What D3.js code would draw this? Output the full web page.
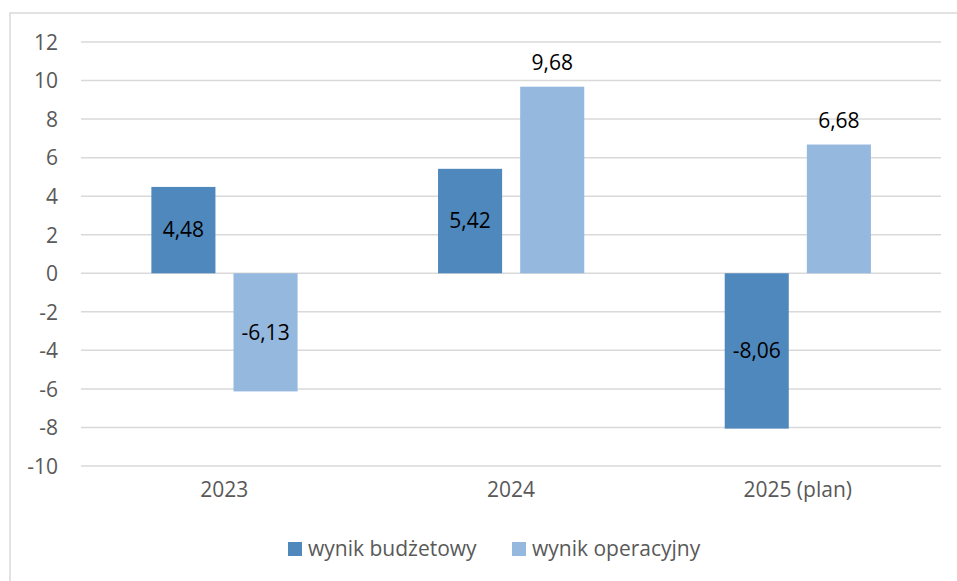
<!DOCTYPE html>
<html>
<head>
<meta charset="utf-8">
<script src="https://cdn.jsdelivr.net/npm/d3@7"></script>
<style>
  body { margin: 0; background: #fff; }
  text { font-family: "Open Sans", sans-serif; }
</style>
</head>
<body>
<script>
var width = 957, height = 581;

// data
var categories = ["2023", "2024", "2025 (plan)"];
var seriesNames = ["wynik budżetowy", "wynik operacyjny"];
var budzetowy = [4.48, 5.42, -8.06];
var operacyjny = [-6.13, 9.68, 6.68];
var yTicks = [-10, -8, -6, -4, -2, 0, 2, 4, 6, 8, 10, 12];
var colors = ["#4f88bd", "#95b8df"];
// where Excel put each label: "c" = centre of bar, "o" = outside end
var labelPos = [["c", "c", "c"], ["c", "o", "o"]];

var values = [budzetowy, operacyjny];

function plFmt(v) {
    return d3.format(".2f")(v).replace(".", ",").replace("\u2212", "-");
}

var svg = d3.select("body").append("svg")
    .attr("width", width)
    .attr("height", height);

// chart border
svg.append("rect")
    .attr("x", 10).attr("y", 13)
    .attr("width", 960).attr("height", 600)
    .attr("fill", "none")
    .attr("stroke", "#d9d9d9")
    .attr("stroke-width", 1.5);

var plotLeft = 81, plotRight = 941;

var y = d3.scaleLinear().domain([-10, 12]).range([466, 42]);

var x0 = d3.scaleBand()
    .domain(categories)
    .range([plotLeft, plotRight])
    .padding(0);

var bw = x0.bandwidth();
var x1 = d3.scaleBand()
    .domain(d3.range(seriesNames.length))
    .range([bw * 0.2455, bw * 0.7555])
    .paddingInner(0.22)
    .paddingOuter(0);

// gridlines
svg.append("g").selectAll("line")
  .data(yTicks)
  .join("line")
    .attr("x1", plotLeft).attr("x2", plotRight)
    .attr("y1", function(d) { return y(d); })
    .attr("y2", function(d) { return y(d); })
    .attr("stroke", "#d9d9d9")
    .attr("stroke-width", 1.5);

// y axis labels
var yAxis = d3.axisLeft(y).tickValues(yTicks).tickSize(0).tickPadding(0)
    .tickFormat(function(d) { return String(d); });
var gy = svg.append("g")
    .attr("transform", "translate(58,0)")
    .call(yAxis);
gy.select(".domain").remove();
gy.selectAll("text")
    .attr("fill", "#595959")
    .attr("dy", "0.35em")
    .style("font-size", "21px")
    .style("font-family", "'Open Sans', sans-serif");

// x axis labels
var xAxis = d3.axisBottom(x0).tickSize(0).tickPadding(0);
var gx = svg.append("g")
    .attr("transform", "translate(0,484)")
    .call(xAxis);
gx.select(".domain").remove();
gx.selectAll("text")
    .attr("fill", "#595959")
    .attr("dy", "0.62em")
    .style("font-size", "21px")
    .style("font-family", "'Open Sans', sans-serif");

// bars
seriesNames.forEach(function(name, s) {
    var rows = categories.map(function(c, i) {
        return { cat: c, v: values[s][i], pos: labelPos[s][i] };
    });
    var g = svg.append("g");
    g.selectAll("rect")
      .data(rows)
      .join("rect")
        .attr("x", function(d) { return x0(d.cat) + x1(s); })
        .attr("width", x1.bandwidth())
        .attr("y", function(d) { return y(Math.max(0, d.v)); })
        .attr("height", function(d) { return Math.abs(y(d.v) - y(0)); })
        .attr("fill", colors[s]);

    g.selectAll("text")
      .data(rows)
      .join("text")
        .attr("x", function(d) { return x0(d.cat) + x1(s) + x1.bandwidth() / 2; })
        .attr("y", function(d) {
            if (d.pos === "o") return y(d.v) - 24;
            return (y(d.v) + y(0)) / 2;
        })
        .attr("text-anchor", "middle")
        .attr("dy", "0.35em")
        .attr("fill", "#000")
        .style("font-size", "21px")
        .text(function(d) { return plFmt(d.v); });
});

// legend
var legendX = [288, 512];
var legend = svg.append("g");
seriesNames.forEach(function(name, s) {
    legend.append("rect")
        .attr("x", legendX[s]).attr("y", 542)
        .attr("width", 14).attr("height", 14)
        .attr("fill", colors[s]);
    legend.append("text")
        .attr("x", legendX[s] + 20).attr("y", 549)
        .attr("dy", "0.35em")
        .attr("fill", "#595959")
        .style("font-size", "21px")
        .text(name);
});
</script>
</body>
</html>
